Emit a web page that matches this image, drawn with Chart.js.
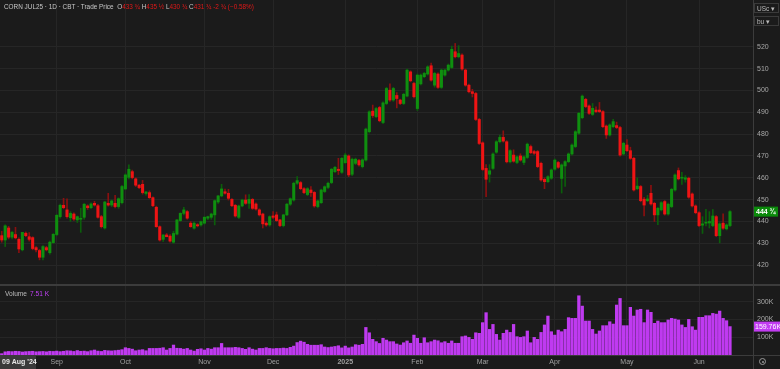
<!DOCTYPE html>
<html>
<head>
<meta charset="utf-8">
<script src="https://cdn.jsdelivr.net/npm/chart.js@4.4.1/dist/chart.umd.min.js"></script>
<style>
body{margin:0;background:#1b1b1b;font-family:"Liberation Sans",Arial,sans-serif}
#wrap{position:relative;width:780px;height:369px;overflow:hidden;background:#1b1b1b}
canvas{position:absolute;left:0}
#price{top:0}
#vol{top:285px}
.hd{position:absolute;left:4px;top:3px;font-size:6.4px;color:#c8c8c8;white-space:nowrap}
.hd b{font-weight:normal;color:#e01818}
.vl{position:absolute;left:5px;top:290px;font-size:6.6px;color:#bbb;white-space:nowrap}
.vl b{font-weight:normal;color:#c040f5;margin-left:3px}
.box{position:absolute;left:754px;width:25px;height:10px;border:1px solid #3a3a3a;font-size:6.5px;color:#bbb;line-height:10px;padding-left:2px;box-sizing:border-box}
.sep{position:absolute;background:#3c3c3c}
.ic{position:absolute;left:759px;top:358px;width:7px;height:7px;border:1px solid #999;border-radius:50%;box-sizing:border-box}
.ic:after{content:"";position:absolute;left:1.5px;top:1.5px;width:2px;height:2px;background:#999;border-radius:50%}
</style>
</head>
<body>
<div id="wrap">
<canvas id="price" width="780" height="285"></canvas>
<canvas id="vol" width="780" height="84"></canvas>
<div class="sep" style="left:0;top:284px;width:780px;height:2px"></div>
<div class="sep" style="left:0;top:355px;width:780px;height:1px"></div>
<div class="sep" style="left:753px;top:0;width:1px;height:369px"></div>
<div class="hd">CORN JUL25 · 1D · CBT · Trade Price &nbsp;O<b>433 ¾</b> H<b>435 ½</b> L<b>430 ¾</b> C<b>431 ¾</b> <b>-2 ¾ (−0.58%)</b></div>
<div class="vl">Volume<b>7.51 K</b></div>
<div class="box" style="top:3px">USc ▾</div>
<div class="box" style="top:16px">bu ▾</div>
<div class="ic"></div>
</div>
<script>
// daily candles, 09 Aug 2024 .. mid Jun 2025
const opens=[
433.5,431.5,437,432.8,434,431.8,427,434.6,433,432.6,
428,426.7,423.6,428,425.7,430.3,434,442.2,447.4,445.3,
441.7,443.4,440.7,441,441.9,447.1,446.3,448.3,447.2,442.2,
437,448.3,447.5,448.3,446.8,448.6,454.9,460.2,462.8,459.5,
456.6,457,452.8,453.2,450.9,446.5,437.6,431.8,433.8,433.3,
430.5,434.2,440.4,443.7,444.5,439.2,436.9,438.5,438.4,439.2,
441.5,441.9,443,448.9,451.7,453.6,452.9,450.1,447.4,441.9,
447.1,449.8,448.3,450.1,448,445.3,443.4,439.2,438.4,442.5,
443,440.7,438.1,443,447.9,449.8,457.5,457.8,455,452.3,
454.4,453.3,446.8,448.6,453.7,455.6,457.8,462.8,463.9,462.5,
466.9,470,461.6,466.6,467.9,465.1,468.1,481.1,490.5,488,
492.2,485.3,494,500.1,495.6,497.7,495.6,494,497.4,508.5,
503.2,491.7,503,506.3,507.5,511.3,502.4,507.5,501.4,507,
509.3,510.5,517.7,515.4,516.2,509.3,502.4,499.4,498.6,486.7,
476,464.3,461.6,464.3,471.7,476.5,478.5,476.5,467.3,470.4,
467,470,467,469.3,474.3,472,472,466.6,459.3,458.2,
459.8,463.9,467,459.7,465.4,467.4,470.9,474.3,480.4,487.5,
495.9,492.9,489,491,491,490.3,483.7,479.6,483.4,483.9,
483,470.9,475,472.4,468.9,455,456,450.2,449.5,452.9,
448.3,443,445.3,449.1,443.4,446.8,454.4,463.3,459.8,459.3,
459.8,452.6,447.1,444,438.3,439.2,439.3,438.1,442.2,433.5,
439.2,436.6,438.1]
const highs=[
435.5,438.5,437.8,435.5,437.3,432.5,435,435.2,434.9,433,
428.5,427.2,429,428.6,431,434.5,443.2,447.9,450.6,450.4,
444.5,444,442.5,446,448.2,447.6,448.5,449.2,447.8,442.8,
449.2,452.9,449.8,452,450.8,456.5,461.8,465.9,463.5,460,
457,458.8,453.8,454,451.3,447,438,434,434.5,434,
435.5,441,444,446.5,445,440,439.8,439,440.2,442.3,
442.5,443.8,449.9,452,457,454.8,454.7,450.5,447.8,447.5,
450.2,452.2,452.3,450.5,448.5,445.8,443.8,439.8,442.6,444.5,
444.3,441,443.3,448.3,450.8,458,460.5,458.3,455.5,455.5,
456,453.7,449.8,454.8,456.3,458,464.3,465.2,468.9,469.3,
471.2,470.5,469,469,468.5,468.7,482.8,490.7,493.3,492.2,
492.7,494.8,501.4,503,501.4,499,496,498.7,509.8,509,
503.7,507.5,507.5,508.3,511.3,512.5,508.3,508,509.8,509.8,
512.1,520.3,521.5,520.5,516.7,509.8,502.9,500.5,499.1,487.2,
476.5,466,466,471.4,477,479.5,481.5,477,472.9,472.8,
470.1,471,470.1,475.9,475,472.6,472.5,467.2,460,461,
464.1,468.6,467.5,466.4,467.9,471.4,475.5,481.6,490,497.9,
496.4,493.4,494,492.5,494.5,490.8,484.2,484.7,486.8,485.5,
483.5,476.3,477.5,474,469.4,460,456.5,451,452,456.5,
448.8,446.5,449.1,449.6,448.4,455.2,461.8,464.5,462.5,461,
460.3,453.1,447.6,444.5,442.2,445.5,444.5,445.5,442.7,439.4,
443.5,438.9,445]
const lows=[
430.5,428.5,432,432,432,425.7,426.5,433,431,427,
426,422.4,422.4,426.5,425,430,433.5,441.5,445.8,441.5,
440,440.5,439.5,435,441,445.5,445.8,447,441.5,437,
436.5,447,446.8,446.2,446,448,454.5,459.5,459.5,456,
455,452.5,452,450.5,446.8,437.3,431,430.8,433,430.5,
430,433.8,440,443,441,437.3,436.5,437.5,437.8,438.8,
440.8,441,438.4,448.3,451.3,452.5,449.8,446.8,442,441.3,
446.7,447.8,446,445.5,445.2,442.5,437,437.8,437.8,441.3,
440,437.6,437.5,442.6,447.3,449.3,457,454.5,452.7,451.8,
451.5,446.5,446.2,448.2,453.2,455,457.3,462.3,461.5,462,
466.5,460.5,461,466,465.3,464.5,467.6,480.5,487.6,487.5,
485.6,484.8,493.5,495,495,492,493.5,493.5,497,503.9,
496.6,490.8,502.5,505.8,507,504.2,501.5,500.9,500.9,506.5,
508.8,510,514.9,514.9,509.3,501.9,498.9,497,486.2,475.2,
463.3,451.3,458,463.8,471.2,476,476.3,466.8,466.8,467.1,
466.5,467.6,466,468.8,471,470.7,464.6,458.5,455,457.7,
459.3,463.4,464.3,453,456,466.9,470.4,473.8,479.9,487,
492.1,489,488.5,489.8,489.8,482.9,478,479.1,482.9,482.5,
469.9,470.4,472,468.4,453.9,454.5,449,442.5,449,447.5,
440,438.5,444.8,442.9,442.9,446.3,453.9,459,457,458,
450.6,446.6,443.5,437.6,434.5,438,437,437.6,433,430.2,
436.4,436.1,437.6]
const closes=[
431.5,438,432.8,435,432.5,427.4,435,433.5,431.8,427.6,
427,423.6,428.5,427,430.5,434.1,442.8,447.4,446.3,442.2,
443.7,441.1,442.2,441.4,447.9,446.3,448,447.5,441.9,437.6,
448.9,447.5,449.4,446.8,450.4,456,461.3,463.9,460.1,456.6,
455.5,453.2,453.5,450.9,447.2,437.6,431.5,433.8,433,431,
434.5,440.7,443.7,445.3,441.5,437.6,439.2,438,439.9,441.9,
442.2,443.4,449.5,451.7,454.9,452.9,450.6,447.2,442.5,447.1,
449.8,448.3,450.1,446,445.7,443,438.9,438.4,442.2,441.9,
440.4,438.1,443,447.9,450.4,457.5,458.7,455,453.2,455,
453.2,447.1,449.4,454.4,455.9,457.5,463.9,464.8,463.3,468.9,
470.4,461.3,468.5,468.5,465.9,468.2,482.3,490.2,488.5,491.7,
486.1,494.3,500.9,495.6,500.9,496.3,494,498.2,509.3,504.4,
497.1,507,507,507.8,510.8,504.7,507.8,501.4,509.3,509.3,
511.6,518.8,515.4,516.9,509.8,502.4,499.4,498.6,486.7,475.7,
463.8,459.3,463.2,470.9,476.5,478.5,476.8,467.3,472.4,467.6,
469.6,468.1,469.6,475.4,471.5,471.2,465.1,459,458.2,460.5,
463.6,468.1,464.8,465.9,467.4,470.9,475,481.1,489.5,497.4,
492.6,489.5,491.8,490.3,490.3,483.4,479.6,484.2,485.7,483,
470.4,475.8,472.4,468.9,454.4,456.2,449.5,447.5,450.3,448,
443,446,448.6,443.4,447.9,454.7,461.3,459.5,460.1,460,
451.1,447.1,444,438.1,438.9,439.6,440,442.5,433.5,438.9,
436.9,438.4,444.5]
// volume in thousands
const volumes=[
7.51,18,20,19,21,20,17,19,20,21,18,19,20,18,21,20,
22,19,21,24,23,20,25,21,22,19,24,28,22,20,26,24,23,25,27,30,
41,37,33,24,28,30,24,37,37,37,38,41,28,37,56,38,37,33,37,28,22,32,35,
28,37,33,41,41,65,41,41,41,43,41,37,32,41,33,28,37,37,41,37,
35,37,37,39,37,43,50,70,78,72,60,55,55,55,58,45,42,45,48,52,40,
50,40,45,58,55,60,155,125,88,75,65,94,84,75,75,62,56,69,79,66,112,
94,66,97,69,75,84,80,69,75,66,79,66,66,103,107,99,88,125,122,182,
238,144,172,116,84,122,140,127,172,103,99,103,135,69,99,88,127,169,219,131,
112,140,131,144,210,206,206,333,275,191,191,144,118,135,165,165,187,174,281,318,
165,165,268,219,253,257,182,253,240,178,191,182,182,197,206,202,197,169,155,200,
159,140,212,212,221,221,234,230,247,206,193,159.76]
// month starts (bar index) and their labels
const monthIdx=[16,36,59,79,100,121,140,161,182,203]
const monthLabels=["Sep","Oct","Nov","Dec","2025","Feb","Mar","Apr","May","Jun"]
const priceTicks=[420,430,440,450,460,470,480,490,500,510,520]
const volTicks=[100,200,300]
const lastLabel="444 ¾"
const firstDate="09 Aug '24"

const idx=closes.map((c,i)=>i)
const up=idx.map(i=>closes[i]>=opens[i])
const XMIN=-0.507,XMAX=218.7
const GRID="#262626"

function noPadV(s){s.width=27;s.paddingTop=0;s.paddingBottom=0}

const priceTag={
id:"priceTag",
afterDraw(c){
const g=c.ctx,y=c.scales.y.getPixelForValue(closes[closes.length-1])
g.save()
g.fillStyle="#0b8a0b"
g.fillRect(754,y-5,24,10)
g.fillStyle="#fff"
g.font="bold 7px 'Liberation Sans',Arial"
g.textBaseline="middle"
g.fillText(lastLabel,756,y+0.5)
g.restore()
}
}

new Chart(document.getElementById("price"),{
type:"bar",
data:{datasets:[
{data:idx.map(i=>({x:i,y:[lows[i],highs[i]]})),
backgroundColor:idx.map(i=>up[i]?"#0b5e0b":"#8a1010"),
barThickness:1,grouped:false,order:2},
{data:idx.map(i=>({x:i,y:[Math.min(opens[i],closes[i]),Math.max(opens[i],closes[i])]})),
backgroundColor:idx.map(i=>up[i]?"#0f8f0f":"#ee1414"),
barThickness:2.4,minBarLength:1,grouped:false,order:1}
]},
options:{
responsive:false,animation:false,
layout:{padding:0},
plugins:{legend:{display:false},tooltip:{enabled:false}},
scales:{
x:{type:"linear",offset:false,min:XMIN,max:XMAX,
afterBuildTicks:s=>{s.ticks=monthIdx.map(v=>({value:v}))},
afterFit:s=>{s.height=0;s.paddingLeft=0;s.paddingRight=0},
ticks:{display:false},grid:{color:GRID,drawTicks:false,offset:false},border:{display:false}},
y:{position:"right",min:410.9,max:541.4,
afterBuildTicks:s=>{s.ticks=priceTicks.map(v=>({value:v}))},
afterFit:noPadV,
ticks:{color:"#a8a8a8",font:{size:7,family:"'Liberation Sans',Arial"},padding:4},
grid:{color:GRID,drawTicks:false},border:{display:false}}
}
},
plugins:[priceTag]
})

const volTag={
id:"volTag",
afterDraw(c){
const g=c.ctx,y=c.scales.y.getPixelForValue(volumes[volumes.length-1])
g.save()
g.fillStyle="#c23cf2"
g.fillRect(754,y-5,26,10)
g.fillStyle="#fff"
g.font="7px 'Liberation Sans',Arial"
g.textBaseline="middle"
g.fillText(volumes[volumes.length-1].toFixed(2)+"K",755,y+0.5)
g.fillStyle="#3a3a3a"
g.fillRect(0,71,36,13)
g.fillStyle="#e8e8e8"
g.font="bold 7px 'Liberation Sans',Arial"
g.fillText(firstDate,2,77.5)
g.restore()
}
}

new Chart(document.getElementById("vol"),{
type:"bar",
data:{datasets:[{data:idx.map(i=>({x:i,y:volumes[i]})),
backgroundColor:"#bf3af0",barThickness:2.6}]},
options:{
responsive:false,animation:false,
layout:{padding:{top:1,left:0,right:0,bottom:0}},
plugins:{legend:{display:false},tooltip:{enabled:false}},
scales:{
x:{type:"linear",offset:false,min:XMIN,max:XMAX,
afterBuildTicks:s=>{s.ticks=monthIdx.map(v=>({value:v}))},
afterFit:s=>{s.height=14;s.paddingLeft=0;s.paddingRight=0},
ticks:{color:"#a0a0a0",padding:3,maxRotation:0,autoSkip:false,
callback:v=>monthLabels[monthIdx.indexOf(v)],
font:c=>({size:7,family:"'Liberation Sans',Arial",weight:c.tick&&c.tick.value===100?"bold":"normal"})},
grid:{color:GRID,drawTicks:false,offset:false},border:{display:false}},
y:{position:"right",min:0,max:388,
afterBuildTicks:s=>{s.ticks=volTicks.map(v=>({value:v}))},
afterFit:noPadV,
ticks:{color:"#a8a8a8",font:{size:7,family:"'Liberation Sans',Arial"},padding:4,callback:v=>v+"K"},
grid:{color:GRID,drawTicks:false},border:{display:false}}
}
},
plugins:[volTag]
})
</script>
</body>
</html>
